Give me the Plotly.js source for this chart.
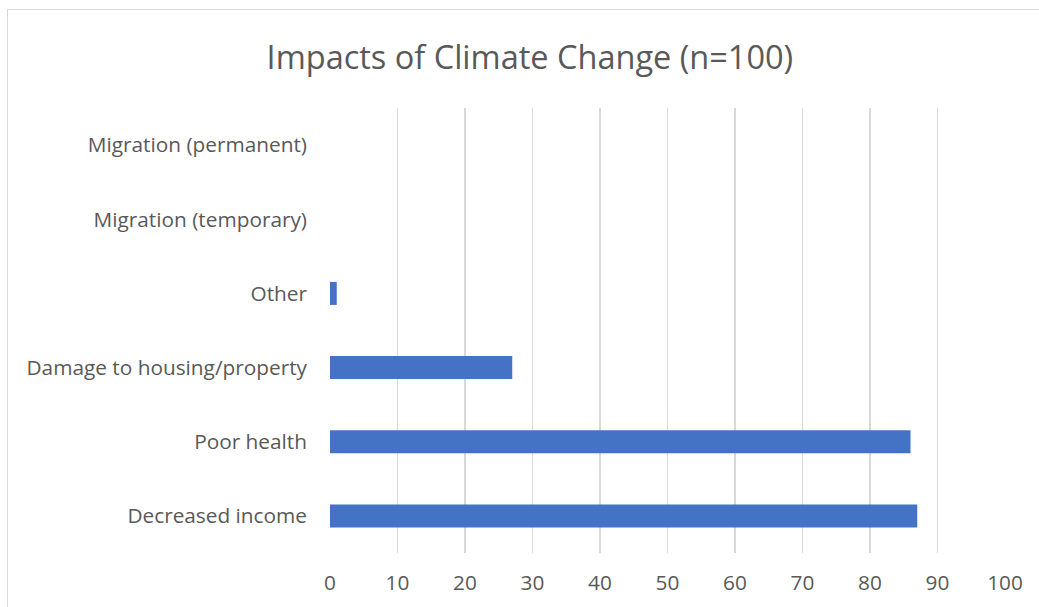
<!DOCTYPE html>
<html>
<head>
<meta charset="utf-8">
<script src="https://cdn.plot.ly/plotly-3.0.1.min.js"></script>
<style>
  html, body { margin: 0; padding: 0; background: #ffffff; overflow: hidden; }
  #chart { width: 1039px; height: 607px; position: absolute; left: 0; top: 0; }
  #frame { position: absolute; left: 7px; top: 9px; width: 1060px; height: 640px;
           border: 1px solid #d9d9d9; pointer-events: none; }
</style>
</head>
<body>
<div id="chart"></div>
<div id="frame"></div>
<script>
const categories = [
  "Decreased income",
  "Poor health",
  "Damage to housing/property",
  "Other",
  "Migration (temporary)",
  "Migration (permanent)"
];
const values = [87, 86, 27, 1, 0, 0];
const xTicks = [0, 10, 20, 30, 40, 50, 60, 70, 80, 90, 100];
const chartTitle = "Impacts of Climate Change (n=100)";

const fontFamily = "'Open Sans', 'Liberation Sans', sans-serif";

const trace = {
  type: "bar",
  orientation: "h",
  x: values,
  y: categories,
  marker: { color: "#4472C4" },
  hoverinfo: "x+y"
};

const layout = {
  width: 1039,
  height: 607,
  margin: { l: 330, r: 34, t: 108, b: 54 },
  paper_bgcolor: "#ffffff",
  plot_bgcolor: "#ffffff",
  showlegend: false,
  bargap: 0.69,
  title: {
    text: chartTitle,
    font: { family: fontFamily, size: 32.5, color: "#595959" },
    x: 0.51,
    xanchor: "center",
    y: 0.905,
    yanchor: "middle"
  },
  xaxis: {
    range: [0, 100],
    tickvals: xTicks,
    ticktext: xTicks.map(String),
    showgrid: true,
    gridcolor: "#d9d9d9",
    gridwidth: 1.6,
    zeroline: false,
    showline: false,
    ticks: "",
    ticklabelstandoff: 15,
    tickfont: { family: fontFamily, size: 20.8, color: "#595959" },
    fixedrange: true
  },
  yaxis: {
    type: "category",
    categoryorder: "array",
    categoryarray: categories,
    showgrid: false,
    zeroline: false,
    showline: false,
    ticks: "",
    ticklabelstandoff: 22,
    tickfont: { family: fontFamily, size: 20.8, color: "#595959" },
    fixedrange: true
  }
};

Plotly.newPlot("chart", [trace], layout, { displayModeBar: false, staticPlot: true });
</script>
</body>
</html>
